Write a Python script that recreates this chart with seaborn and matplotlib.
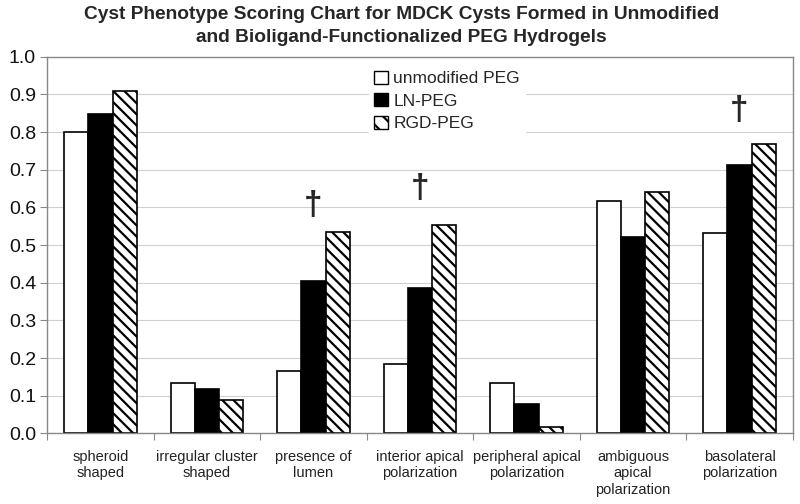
import matplotlib
matplotlib.use("Agg")
import matplotlib.pyplot as plt
import seaborn as sns
import pandas as pd
import numpy as np
from matplotlib.patches import Patch

categories = ["spheroid\nshaped", "irregular cluster\nshaped", "presence of\nlumen",
              "interior apical\npolarization", "peripheral apical\npolarization",
              "ambiguous\napical\npolarization", "basolateral\npolarization"]
series = ["unmodified PEG", "LN-PEG", "RGD-PEG"]
unmodified = [0.800, 0.133, 0.165, 0.184, 0.133, 0.617, 0.533]
ln_peg = [0.848, 0.119, 0.404, 0.385, 0.078, 0.522, 0.712]
rgd_peg = [0.909, 0.088, 0.535, 0.553, 0.018, 0.641, 0.767]
dagger_cats = [2, 3, 6]
dagger_vals = [0.565, 0.61, 0.815]
yticks = [round(0.1 * i, 1) for i in range(11)]

df = pd.DataFrame({
    "category": categories * 3,
    "group": [s for s in series for _ in categories],
    "value": unmodified + ln_peg + rgd_peg,
})

sns.set_style("white")
plt.rcParams["font.family"] = ["Liberation Sans", "DejaVu Sans"]
plt.rcParams["hatch.linewidth"] = 1.6

fig = plt.figure(figsize=(8, 5.04), dpi=100)
ax = fig.add_axes([0.059, 0.140, 0.932, 0.7475])

palette = {"unmodified PEG": "white", "LN-PEG": "black", "RGD-PEG": "white"}
sns.barplot(data=df, x="category", y="value", hue="group", palette=palette,
            order=categories, hue_order=series, width=0.68, gap=0,
            edgecolor="black", linewidth=1.2, saturation=1, ax=ax, legend=False)

n = len(categories)
for i, p in enumerate(ax.patches[:3 * n]):
    if i >= 2 * n:
        p.set_hatch("\\\\\\")

ax.set_ylim(0, 1.0)
ax.set_xlim(-0.5, n - 0.5)
ax.set_yticks(yticks)
ax.set_yticklabels([f"{v:.1f}" for v in yticks], fontsize=14, color="#111111")
ax.yaxis.grid(True, color="#d0d0d0", linewidth=0.8)
ax.set_axisbelow(True)

ax.set_xticks(np.arange(-0.5, n, 1.0))
ax.set_xticklabels([""] * (n + 1))
ax.set_xticks(np.arange(n), minor=True)
ax.set_xticklabels(categories, minor=True, fontsize=10.5, color="#222222", linespacing=1.2)
ax.tick_params(axis="x", which="major", length=5, direction="out", color="#888888", bottom=True)
ax.tick_params(axis="x", which="minor", length=0, pad=12)
ax.tick_params(axis="y", length=5, direction="out", color="#888888", left=True, pad=3)
ax.set_xlabel("")
ax.set_ylabel("")

for s in ["left", "bottom", "right", "top"]:
    ax.spines[s].set_color("#888888")
    ax.spines[s].set_linewidth(1.0)

for c, v in zip(dagger_cats, dagger_vals):
    ax.text(c, v, "\u2020", ha="center", va="bottom", fontsize=24, fontweight="bold")

handles = [Patch(facecolor="white", edgecolor="black", label=series[0]),
           Patch(facecolor="black", edgecolor="black", label=series[1]),
           Patch(facecolor="white", edgecolor="black", hatch="\\\\", label=series[2])]
leg = ax.legend(handles=handles, loc="upper left", bbox_to_anchor=(0.42, 1.0),
                frameon=True, fontsize=12.5, handlelength=0.8, handleheight=0.8,
                handletextpad=0.3, labelspacing=0.4, borderpad=0.3)
leg.get_frame().set_edgecolor("white")
leg.get_frame().set_facecolor("white")
leg.get_frame().set_alpha(1)

fig.suptitle("Cyst Phenotype Scoring Chart for MDCK Cysts Formed in Unmodified\n"
             "and Bioligand-Functionalized PEG Hydrogels",
             x=0.502, y=0.988, fontsize=13.8, fontweight="bold", linespacing=1.45)

fig.savefig("out.png", dpi=100)
